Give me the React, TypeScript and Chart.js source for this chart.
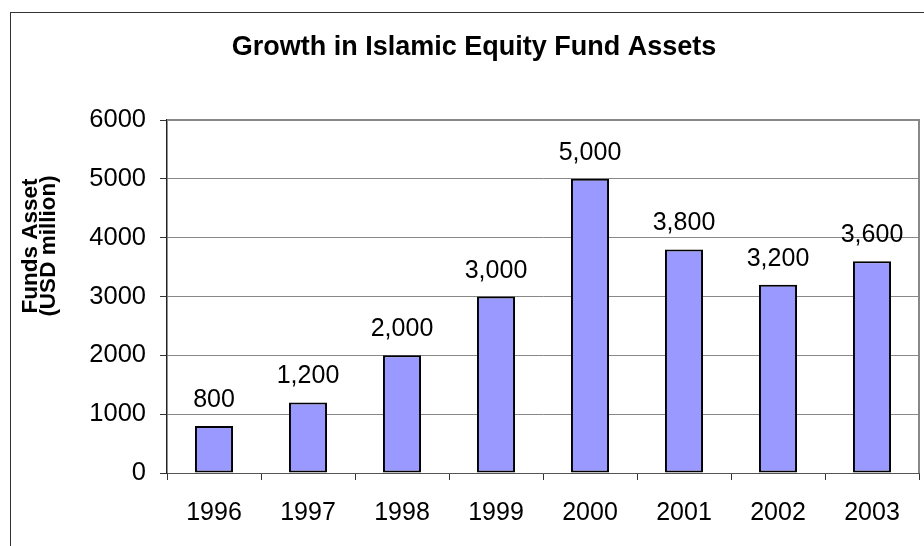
import React, { useEffect, useRef } from "react";
import { Chart, registerables } from "chart.js";

Chart.register(...registerables);

const years: string[] = ["1996", "1997", "1998", "1999", "2000", "2001", "2002", "2003"];
const assets: number[] = [800, 1200, 2000, 3000, 5000, 3800, 3200, 3600];
const yTickValues: number[] = [0, 1000, 2000, 3000, 4000, 5000, 6000];
const chartTitle = "Growth in Islamic Equity Fund Assets";
const yTitleLines: string[] = ["Funds Asset", "(USD million)"];

const FONT = "'Liberation Sans', Arial, Helvetica, sans-serif";

const decorPlugin = {
  id: "decor",
  beforeDraw(chart: any) {
    const ctx = chart.ctx;
    ctx.save();
    ctx.fillStyle = "#ffffff";
    ctx.fillRect(0, 0, chart.width, chart.height);
    ctx.strokeStyle = "#333333";
    ctx.lineWidth = 1;
    ctx.strokeRect(10.5, 12.5, 2000, 2000);
    ctx.restore();
  },
  afterDatasetsDraw(chart: any) {
    const ctx = chart.ctx;
    const area = chart.chartArea;
    ctx.save();
    // plot area top/right border
    ctx.strokeStyle = "#888888";
    ctx.lineWidth = 2;
    ctx.beginPath();
    ctx.moveTo(area.left, area.top);
    ctx.lineTo(area.right, area.top);
    ctx.lineTo(area.right, area.bottom);
    ctx.stroke();

    // data labels
    const meta = chart.getDatasetMeta(0);
    ctx.fillStyle = "#000000";
    ctx.font = `25px ${FONT}`;
    ctx.textAlign = "center";
    ctx.textBaseline = "alphabetic";
    meta.data.forEach((bar: any, i: number) => {
      const v = chart.data.datasets[0].data[i] as number;
      ctx.fillText(v.toLocaleString("en-US"), bar.x, bar.y - 19);
    });

    // title
    ctx.font = `bold 27px ${FONT}`;
    ctx.fillText(chartTitle, 474, 55);

    // y-axis title (rotated)
    ctx.font = `bold 22.5px ${FONT}`;
    ctx.translate(0, 246);
    ctx.rotate(-Math.PI / 2);
    ctx.textAlign = "center";
    ctx.fillText(yTitleLines[0], 0, 37);
    ctx.fillText(yTitleLines[1], 0, 55);
    ctx.restore();
  },
};

export default function App() {
  const canvasRef = useRef<HTMLCanvasElement | null>(null);

  useEffect(() => {
    if (!canvasRef.current) return;
    const chart = new Chart(canvasRef.current, {
      type: "bar",
      data: {
        labels: years,
        datasets: [
          {
            data: assets,
            backgroundColor: "#9999FF",
            borderColor: "#000000",
            borderWidth: 2,
            borderSkipped: false,
            categoryPercentage: 1,
            barPercentage: 0.405,
          },
        ],
      },
      options: {
        animation: false,
        responsive: true,
        maintainAspectRatio: false,
        layout: { padding: { left: 0, top: 120, right: 5, bottom: 0 } },
        plugins: {
          legend: { display: false },
          title: { display: false },
          tooltip: { enabled: false },
        },
        scales: {
          x: {
            afterFit(scale: any) {
              scale.height = 73;
            },
            grid: {
              display: true,
              drawOnChartArea: false,
              drawTicks: true,
              tickLength: 7,
              tickColor: "#333333",
              offset: true,
            },
            border: { display: true, color: "#555555", width: 1 },
            ticks: {
              color: "#000000",
              font: { family: FONT, size: 25 },
              padding: 18,
              maxRotation: 0,
            },
          },
          y: {
            min: 0,
            max: 6000,
            afterFit(scale: any) {
              scale.width = 167;
            },
            afterBuildTicks(scale: any) {
              scale.ticks = yTickValues.map((v) => ({ value: v }));
            },
            grid: {
              color: "#888888",
              lineWidth: 1,
              tickLength: 7,
              tickColor: "#333333",
            },
            border: { display: true, color: "#222222", width: 1.5 },
            ticks: {
              color: "#000000",
              font: { family: FONT, size: 25.5 },
              padding: 14,
              callback: (v: any) => String(v),
            },
          },
        },
      },
      plugins: [decorPlugin],
    });
    return () => chart.destroy();
  }, []);

  return (
    <div style={{ position: "absolute", left: 0, top: 0, width: 924, height: 546 }}>
      <canvas ref={canvasRef} />
    </div>
  );
}
